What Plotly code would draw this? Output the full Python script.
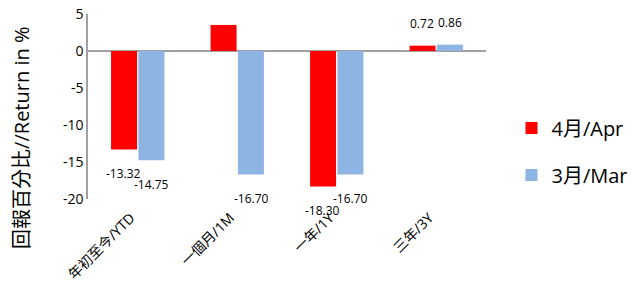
import plotly.graph_objects as go

categories = ["年初至今/YTD", "一個月/1M", "一年/1Y", "三年/3Y"]
apr_values = [-13.32, 3.52, -18.30, 0.72]
mar_values = [-14.75, -16.70, -16.70, 0.86]
series_names = ["4月/Apr", "3月/Mar"]
y_ticks = [5, 0, -5, -10, -15, -20]
y_tick_labels = ["5", "0", "-5", "-10", "-15", "-20"]
colors = ["#FF0000", "#8EB4E3"]
FONT = "Open Sans, Noto Sans CJK TC, sans-serif"

fig = go.Figure()
for i, (name, vals) in enumerate(zip(series_names, [apr_values, mar_values])):
    fig.add_trace(go.Bar(
        x=categories, y=vals, name=name, marker_color=colors[i],
        marker_line_width=0, legendgroup=name, offsetgroup=str(i),
    ))

# data labels
for i, vals in enumerate([apr_values, mar_values]):
    for j, v in enumerate(vals):
        fig.add_annotation(
            x=j, y=v, xref="x", yref="y", text=f"{v:.2f}", showarrow=False,
            xshift=(-14 if i == 0 else 14), yshift=(22 if v >= 0 else -24),
            font=dict(family=FONT, size=12, color="#000"),
        )

fig.add_annotation(
    xref="paper", yref="paper", x=-0.166, y=0.33, xanchor="center", yanchor="middle",
    text="回報百分比//Return in %",
    textangle=-90, showarrow=False, font=dict(family=FONT, size=20, color="#000"),
)

fig.update_layout(
    width=635, height=301, margin=dict(l=80, r=157, t=6, b=110),
    plot_bgcolor="white", paper_bgcolor="white",
    barmode="group", bargap=0.45, bargroupgap=0.05,
    font=dict(family=FONT, color="#000"),
    legend=dict(x=1.064, y=0.257, xanchor="left", yanchor="middle",
                font=dict(family=FONT, size=20), tracegroupgap=18,
                traceorder="grouped"),
    xaxis=dict(tickangle=-45, tickfont=dict(size=14), showline=False,
               showgrid=False, ticks="", automargin=False,
               ticklabelstandoff=7, ticklabelshift=-7),
    yaxis=dict(range=[-20, 5], tickvals=y_ticks, ticktext=y_tick_labels,
               showgrid=False, zeroline=True, ticklabeloverflow="allow",
               zerolinecolor="#A0A0A0", zerolinewidth=1.5, showline=True,
               linecolor="#A0A0A0", linewidth=1.5, ticks="",
               tickfont=dict(size=14), automargin=False),
)

fig.write_html("out.html")
